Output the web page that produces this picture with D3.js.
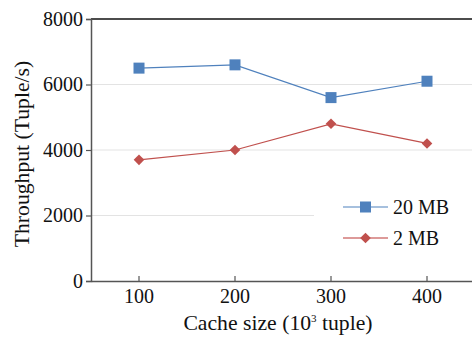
<!DOCTYPE html>
<html>
<head>
<meta charset="utf-8">
<script src="https://cdn.jsdelivr.net/npm/d3@7"></script>
<style>
  body { margin: 0; background: #fff; }
</style>
</head>
<body>
<svg id="chart" width="472" height="338"></svg>
<script>
const categories = ["100", "200", "300", "400"];
const yTicks = [0, 2000, 4000, 6000, 8000];
const mb20 = [6500, 6600, 5600, 6100];
const mb2 = [3700, 4000, 4800, 4200];
const seriesNames = ["20 MB", "2 MB"];

const svg = d3.select("#chart");
const plotLeft = 91, plotRight = 475, plotTop = 19, plotBottom = 281;
const fs = 20, titleFs = 21.7;
const serif = "'Liberation Serif', 'Times New Roman', serif";

const x = d3.scaleBand().domain(categories).range([plotLeft, plotRight]);
const y = d3.scaleLinear().domain([0, 8000]).range([plotBottom, plotTop]);

// gridlines
svg.append("g")
    .selectAll("line")
    .data(yTicks.filter(d => d > 0 && d < 8000))
    .join("line")
    .attr("x1", plotLeft).attr("x2", plotRight)
    .attr("y1", d => y(d)).attr("y2", d => y(d))
    .attr("stroke", "#e3e3e3")
    .attr("stroke-width", 1.2);

// top border
svg.append("line")
    .attr("x1", plotLeft).attr("x2", plotRight)
    .attr("y1", plotTop).attr("y2", plotTop)
    .attr("stroke", "#111").attr("stroke-width", 1.5);

// y axis
const yAxis = svg.append("g")
    .attr("transform", `translate(${plotLeft},0)`)
    .call(d3.axisLeft(y).tickValues(yTicks).tickSize(5).tickPadding(3).tickFormat(d3.format("d")));
yAxis.attr("font-family", null).style("font-family", serif);
yAxis.select(".domain").attr("stroke", "#555").attr("stroke-width", 1.5);
yAxis.selectAll(".tick line").attr("stroke", "#555").attr("stroke-width", 1.2);
yAxis.selectAll("text").attr("font-size", fs).attr("fill", "#111").style("font-family", serif);

// x axis (ticks point inward)
const xAxis = svg.append("g")
    .attr("transform", `translate(0,${plotBottom})`)
    .call(d3.axisBottom(x).tickSize(-5).tickSizeOuter(0).tickPadding(8));
xAxis.attr("font-family", null).style("font-family", serif);
xAxis.select(".domain").attr("stroke", "#555").attr("stroke-width", 1.5);
xAxis.selectAll(".tick line").attr("stroke", "#555").attr("stroke-width", 1.2);
xAxis.selectAll("text").attr("font-size", fs).attr("fill", "#111").style("font-family", serif);

// axis titles
svg.append("text")
    .attr("transform", `translate(29,154) rotate(-90)`)
    .attr("text-anchor", "middle")
    .attr("font-size", titleFs)
    .attr("fill", "#111")
    .style("font-family", serif)
    .text("Throughput (Tuple/s)");

const xt = svg.append("text")
    .attr("x", 278).attr("y", 330)
    .attr("text-anchor", "middle")
    .attr("font-size", titleFs)
    .attr("fill", "#111")
    .style("font-family", serif);
xt.append("tspan").text("Cache size (10");
xt.append("tspan").attr("font-size", 11).attr("dy", -8).text("3");
xt.append("tspan").attr("dy", 8).text(" tuple)");

const line = d3.line()
    .x((d, i) => x(categories[i]) + x.bandwidth() / 2)
    .y(d => y(d));

const blue = "#4F81BD", red = "#C0504D";

// 20 MB series
svg.append("path").datum(mb20)
    .attr("d", line).attr("fill", "none")
    .attr("stroke", blue).attr("stroke-width", 1.2);
svg.append("g").selectAll("rect").data(mb20).join("rect")
    .attr("x", (d, i) => x(categories[i]) + x.bandwidth() / 2 - 5.5)
    .attr("y", d => y(d) - 5.5)
    .attr("width", 11).attr("height", 11)
    .attr("fill", blue);

// 2 MB series
const diamond = d3.symbol().type(d3.symbolDiamond2).size(72);
svg.append("path").datum(mb2)
    .attr("d", line).attr("fill", "none")
    .attr("stroke", red).attr("stroke-width", 1.2);
svg.append("g").selectAll("path").data(mb2).join("path")
    .attr("d", diamond)
    .attr("transform", (d, i) => `translate(${x(categories[i]) + x.bandwidth() / 2},${y(d)})`)
    .attr("fill", red);

// legend
svg.append("rect")
    .attr("x", 314).attr("y", 193).attr("width", 160).attr("height", 62)
    .attr("fill", "#fff");
const legend = svg.append("g");
const legColors = [blue, "#dd9a99"];
seriesNames.forEach((name, i) => {
    const ly = 207 + i * 31;
    legend.append("line")
        .attr("x1", 343).attr("x2", 388)
        .attr("y1", ly).attr("y2", ly)
        .attr("stroke", legColors[i]).attr("stroke-width", i === 0 ? 1.2 : 2);
    if (i === 0) {
        legend.append("rect")
            .attr("x", 365.5 - 5.5).attr("y", ly - 5.5)
            .attr("width", 11).attr("height", 11)
            .attr("fill", blue);
    } else {
        legend.append("path")
            .attr("d", diamond)
            .attr("transform", `translate(365.5,${ly})`)
            .attr("fill", red);
    }
    legend.append("text")
        .attr("x", 393).attr("y", ly + 6.5)
        .attr("font-size", fs).attr("fill", "#111")
        .style("font-family", serif)
        .text(name);
});
</script>
</body>
</html>
